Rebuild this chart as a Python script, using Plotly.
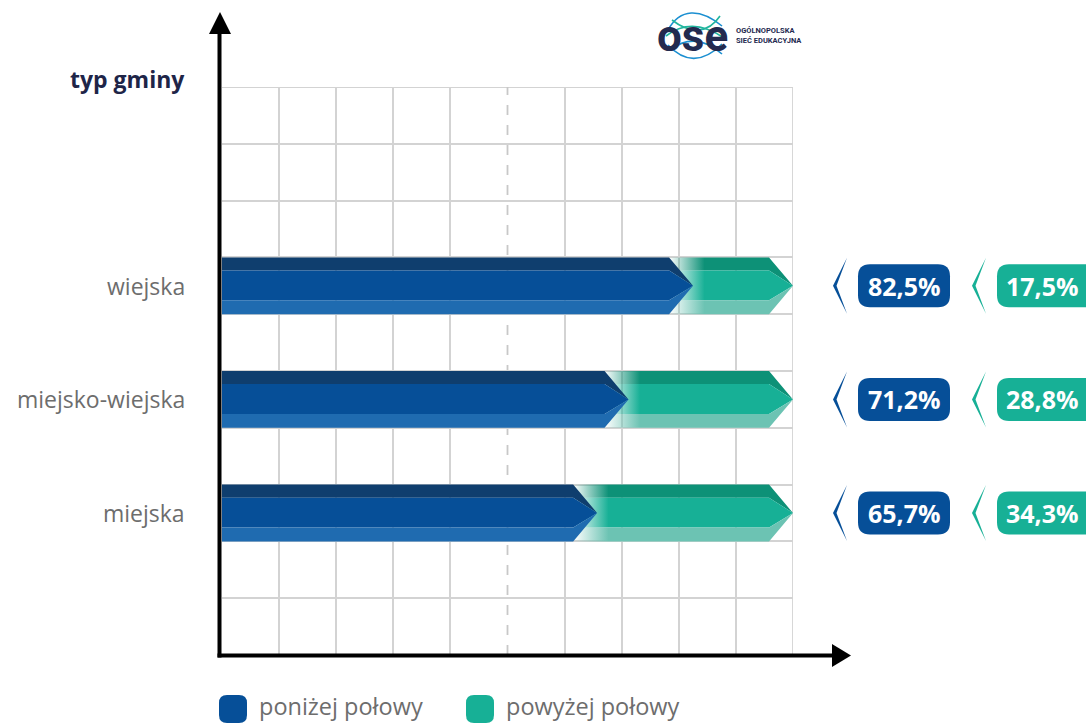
import plotly.graph_objects as go

# ---------------- data ----------------
categories = ["miejska", "miejsko-wiejska", "wiejska"]
below_half = [65.7, 71.2, 82.5]      # poniżej połowy
above_half = [34.3, 28.8, 17.5]      # powyżej połowy
series_names = ["poniżej połowy", "powyżej połowy"]
axis_title = "typ gminy"

# ---------------- style ----------------
W, H = 1086, 724
L, R, T, B = 222, 793, 87, 655          # plot area in pixels
BLUE = ["#0f3e6e", "#064f98", "#1f6bb0"]  # top, mid, bottom
GREEN = ["#0d9177", "#17b096", "#6cc3b3"]
GREEN_RGB = ["13,145,119", "23,176,150", "108,195,179"]
GRID = "#d3d3d3"
GRAY_TXT = "#6d6d6d"
NAVY = "#1e2548"
FONT = "Open Sans"

HEAD = 4.2      # arrow-head depth in axis units
TOPB = 0.27     # band split (relative to row centre)
BOTB = 0.255


def X(px):
    return (px - L) / (R - L)


def Y(py):
    return (B - py) / (B - T)


def rrect(x0, y0, x1, y1, r):
    """Rounded rectangle path in paper coords from pixel coords."""
    pts = [
        f"M {X(x0 + r)} {Y(y0)}",
        f"L {X(x1 - r)} {Y(y0)}",
        f"Q {X(x1)} {Y(y0)} {X(x1)} {Y(y0 + r)}",
        f"L {X(x1)} {Y(y1 - r)}",
        f"Q {X(x1)} {Y(y1)} {X(x1 - r)} {Y(y1)}",
        f"L {X(x0 + r)} {Y(y1)}",
        f"Q {X(x0)} {Y(y1)} {X(x0)} {Y(y1 - r)}",
        f"L {X(x0)} {Y(y0 + r)}",
        f"Q {X(x0)} {Y(y0)} {X(x0 + r)} {Y(y0)}",
        "Z",
    ]
    return " ".join(pts)


def ppath(points):
    s = "M " + " L ".join(f"{X(a)} {Y(b)}" for a, b in points) + " Z"
    return s


def bands(x0, tip, c):
    """Three band polygons of an arrow from x0 to tip centred at c."""
    xb = tip - HEAD
    top = ([x0, xb, tip, xb, x0, x0], [c + 0.5, c + 0.5, c, c + TOPB, c + TOPB, c + 0.5])
    mid = ([x0, xb, tip, xb, x0, x0], [c + TOPB, c + TOPB, c, c - BOTB, c - BOTB, c + TOPB])
    bot = ([x0, xb, tip, xb, x0, x0], [c - BOTB, c - BOTB, c, c - 0.5, c - 0.5, c - BOTB])
    return [top, mid, bot]


fig = go.Figure()

row_centres = [2.5 + 2 * i for i in range(len(categories))]

# green (behind), with a fade-in gradient on its left side
for v, a, c in zip(below_half, above_half, row_centres):
    start = v - HEAD
    for (xs, ys), rgb in zip(bands(start, v + a, c), GREEN_RGB):
        fig.add_trace(go.Scatter(
            x=xs, y=ys, mode="lines", fill="toself", line=dict(width=0),
            fillgradient=dict(type="horizontal", start=start, stop=v + 2.0,
                              colorscale=[[0, f"rgba({rgb},0)"], [1, f"rgba({rgb},1)"]]),
            hoverinfo="skip", showlegend=False))

# blue (front)
for v, c in zip(below_half, row_centres):
    for (xs, ys), col in zip(bands(0, v, c), BLUE):
        fig.add_trace(go.Scatter(
            x=xs, y=ys, mode="lines", fill="toself", line=dict(width=0),
            fillcolor=col, hoverinfo="skip", showlegend=False))

shapes = []
annotations = []

# boundary grid lines (not drawn by the axis at range ends)
shapes.append(dict(type="line", xref="x", yref="y", x0=100, x1=100, y0=0, y1=10,
                   line=dict(color=GRID, width=1.8), layer="below"))
shapes.append(dict(type="line", xref="x", yref="y", x0=0, x1=100, y0=10, y1=10,
                   line=dict(color=GRID, width=1.8), layer="below"))

# dashed 50% line
shapes.append(dict(type="line", xref="x", yref="y", x0=50, x1=50, y0=0, y1=10,
                   line=dict(color="#c8c8c8", width=1.8, dash="10px,10px"), layer="below"))

# axes with arrowheads
shapes.append(dict(type="line", xref="paper", yref="paper", x0=X(219.5), x1=X(219.5),
                   y0=Y(657.5), y1=Y(32), line=dict(color="black", width=4)))
shapes.append(dict(type="path", xref="paper", yref="paper",
                   path=ppath([(209, 34), (231, 34), (220, 12)]),
                   fillcolor="black", line=dict(width=0)))
shapes.append(dict(type="line", xref="paper", yref="paper", x0=X(217.5), x1=X(835),
                   y0=Y(655.5), y1=Y(655.5), line=dict(color="black", width=4)))
shapes.append(dict(type="path", xref="paper", yref="paper",
                   path=ppath([(832, 644), (832, 667), (851, 655.5)]),
                   fillcolor="black", line=dict(width=0)))

# category labels, value pills
for cat, v, a, c in zip(categories, below_half, above_half, row_centres):
    cy = B - c * (B - T) / 10
    annotations.append(dict(xref="paper", yref="y", x=X(187), y=c, text=cat,
                            xanchor="right", yanchor="middle", showarrow=False,
                            font=dict(family=FONT, size=23, color=GRAY_TXT)))
    # chevrons
    shapes.append(dict(type="path", xref="paper", yref="paper",
                       path=ppath([(847, cy - 28), (833, cy), (847, cy + 28), (836.5, cy)]),
                       fillcolor=BLUE[1], line=dict(width=0)))
    shapes.append(dict(type="path", xref="paper", yref="paper",
                       path=ppath([(986, cy - 28), (972, cy), (986, cy + 28), (975.5, cy)]),
                       fillcolor=GREEN[1], line=dict(width=0)))
    # pills
    shapes.append(dict(type="path", xref="paper", yref="paper",
                       path=rrect(858, cy - 21.5, 950, cy + 21.5, 12),
                       fillcolor=BLUE[1], line=dict(width=0)))
    shapes.append(dict(type="path", xref="paper", yref="paper",
                       path=rrect(997, cy - 21.5, 1098, cy + 21.5, 12),
                       fillcolor=GREEN[1], line=dict(width=0)))
    annotations.append(dict(xref="paper", yref="paper", x=X(904), y=Y(cy), text=f"<b>{v:.1f}%</b>".replace(".", ","),
                            xanchor="center", yanchor="middle", showarrow=False,
                            font=dict(family=FONT, size=25, color="white")))
    annotations.append(dict(xref="paper", yref="paper", x=X(1042), y=Y(cy), text=f"<b>{a:.1f}%</b>".replace(".", ","),
                            xanchor="center", yanchor="middle", showarrow=False,
                            font=dict(family=FONT, size=25, color="white")))

# axis title
annotations.append(dict(xref="paper", yref="paper", x=X(187), y=Y(79), text=f"<b>{axis_title}</b>",
                        xanchor="right", yanchor="middle", showarrow=False,
                        font=dict(family=FONT, size=23, color=NAVY)))

# legend
for name, col, x0 in zip(series_names, [BLUE[1], GREEN[1]], [219, 466]):
    shapes.append(dict(type="path", xref="paper", yref="paper",
                       path=rrect(x0, 695, x0 + 28, 723, 8), fillcolor=col, line=dict(width=0)))
    annotations.append(dict(xref="paper", yref="paper", x=X(x0 + 38), y=Y(706), text=name,
                            xanchor="left", yanchor="middle", showarrow=False,
                            font=dict(family=FONT, size=23.5, color=GRAY_TXT)))

# logo (approximation)
wave_paths = [
    ("M 668 30 C 680 8, 700 8, 722 26", "#1b8fd1"),
    ("M 668 45 C 684 62, 702 64, 722 44", "#1b8fd1"),
    ("M 666 36 C 684 22, 704 24, 724 38", "#21b59e"),
    ("M 670 50 C 688 36, 706 40, 722 54", "#1b8fd1"),
    ("M 672 20 C 690 34, 708 34, 720 16", "#21b59e"),
]
for p, col in wave_paths:
    toks = p.replace(",", "").split()
    out = []
    i = 0
    while i < len(toks):
        t = toks[i]
        if t in ("M", "C", "L"):
            out.append(t)
            i += 1
        else:
            out.append(f"{X(float(toks[i]))} {Y(float(toks[i + 1]))}")
            i += 2
    shapes.append(dict(type="path", xref="paper", yref="paper", path=" ".join(out),
                       line=dict(color=col, width=1.6)))
annotations.append(dict(xref="paper", yref="paper", x=X(692), y=Y(36), text="<b>ose</b>",
                        xanchor="center", yanchor="middle", showarrow=False,
                        font=dict(family="Roboto", size=44, color="#232a4f")))
annotations.append(dict(xref="paper", yref="paper", x=X(734), y=Y(36), align="left",
                        text="<b>OGÓLNOPOLSKA<br>SIEĆ EDUKACYJNA</b>",
                        xanchor="left", yanchor="middle", showarrow=False,
                        font=dict(family="Roboto", size=7.5, color="#232a4f")))

fig.update_layout(
    width=W, height=H,
    margin=dict(l=L, r=W - R, t=T, b=H - B, pad=0),
    paper_bgcolor="white", plot_bgcolor="white",
    xaxis=dict(range=[0, 100], tickvals=[10, 20, 30, 40, 60, 70, 80, 90],
               showticklabels=False, ticks="", showgrid=True, gridcolor=GRID, gridwidth=1.8,
               zeroline=False, showline=False, fixedrange=True),
    yaxis=dict(range=[0, 10], tickvals=list(range(1, 10)),
               showticklabels=False, ticks="", showgrid=True, gridcolor=GRID, gridwidth=1.8,
               zeroline=False, showline=False, fixedrange=True),
    shapes=shapes, annotations=annotations, showlegend=False,
)

fig.write_html(
    "out.html",
    config={"displayModeBar": False},
    post_script="document.body.style.margin='0';document.body.style.padding='0';"
                "document.body.style.overflow='hidden';",
)
